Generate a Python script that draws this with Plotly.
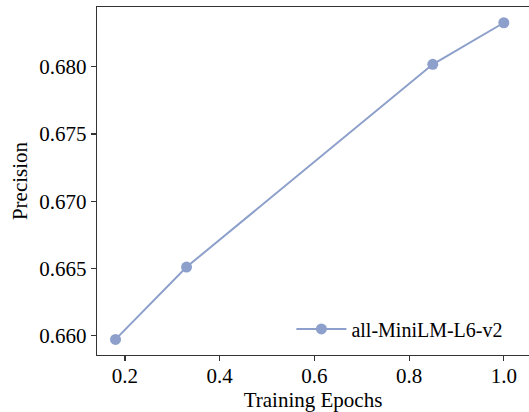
import plotly.graph_objects as go

epochs = [0.18, 0.33, 0.85, 1.0]
precision = [0.65973, 0.66511, 0.68018, 0.68327]
series_name = "all-MiniLM-L6-v2"
x_ticks = [0.2, 0.4, 0.6, 0.8, 1.0]
x_tick_labels = ["0.2", "0.4", "0.6", "0.8", "1.0"]
y_ticks = [0.660, 0.665, 0.670, 0.675, 0.680]
y_tick_labels = ["0.660", "0.665", "0.670", "0.675", "0.680"]

color = "#8da0cb"
font_family = "Liberation Serif"

fig = go.Figure()
fig.add_trace(go.Scatter(
    x=epochs, y=precision, mode="lines+markers", name=series_name,
    line=dict(color=color, width=2),
    marker=dict(color=color, size=11),
))

axis_common = dict(
    showline=True, linecolor="#333333", linewidth=1.3,
    ticks="outside", ticklen=5, tickwidth=1.2, tickcolor="#333333",
    showgrid=False, zeroline=False,
    tickfont=dict(family=font_family, size=21, color="black"),
)

fig.update_layout(
    width=529, height=412,
    margin=dict(l=97, r=0, t=7, b=57),
    paper_bgcolor="white", plot_bgcolor="white",
    font=dict(family=font_family, size=21, color="black"),
    xaxis=dict(
        range=[0.1409, 1.0532], tickvals=x_ticks, ticktext=x_tick_labels,
        mirror=True, ticklabelstandoff=-4,
        title=dict(text="Training Epochs", font=dict(family=font_family, size=21), standoff=6),
        **axis_common,
    ),
    yaxis=dict(
        range=[0.65857, 0.68444], tickvals=y_ticks, ticktext=y_tick_labels,
        mirror=False,
        title=dict(text="Precision", font=dict(family=font_family, size=21), standoff=6),
        **axis_common,
    ),
    showlegend=True,
    legend=dict(
        x=0.45, y=0.075, xanchor="left", yanchor="middle",
        bgcolor="rgba(0,0,0,0)", font=dict(family=font_family, size=20),
        itemwidth=50,
    ),
)

fig.write_html(
    "out.html",
    config={"displayModeBar": False, "staticPlot": True},
    post_script="document.body.style.margin='0';document.body.style.overflow='hidden';",
)
